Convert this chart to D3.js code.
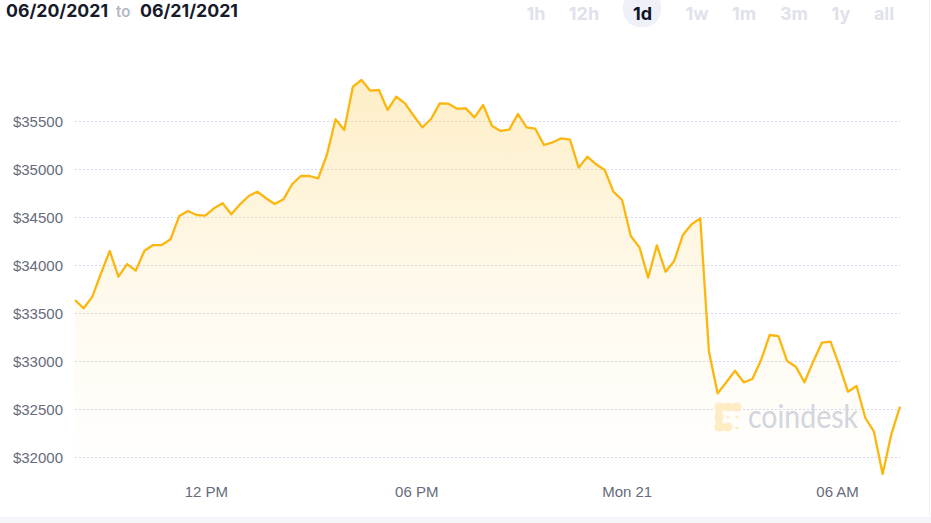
<!DOCTYPE html>
<html>
<head>
<meta charset="utf-8">
<script src="https://cdn.jsdelivr.net/npm/d3@7/dist/d3.min.js"></script>
<style>
  html, body { margin: 0; padding: 0; background: #ffffff; }
  svg { display: block; }
</style>
</head>
<body>
<svg id="chart" width="931" height="523"></svg>
<script>
// ---------- Data ----------
const prices = [
  33635, 33549, 33670, 33914, 34146, 33878, 34010, 33941, 34149, 34208,
  34208, 34268, 34510, 34562, 34521, 34514, 34590, 34643, 34528, 34632,
  34719, 34764, 34695, 34635, 34684, 34841, 34927, 34927, 34903, 35146,
  35518, 35406, 35857, 35927, 35816, 35823, 35615, 35753, 35684, 35555,
  35434, 35521, 35684, 35680, 35628, 35632, 35538, 35667, 35451, 35396,
  35410, 35573, 35434, 35420, 35250, 35278, 35320, 35305, 35014, 35128,
  35049, 34990, 34764, 34677, 34302, 34184, 33868, 34205, 33930, 34042,
  34313, 34424, 34486, 33097, 32663, 32778, 32899, 32778, 32813, 33010,
  33271, 33260, 33000, 32941, 32778, 32993, 33191, 33201, 32958, 32680,
  32740, 32409, 32264, 31823, 32236, 32524
];
const startTime = new Date(2021, 5, 20, 8, 16);
const stepMinutes = 14.86;
const yTickValues = [32000, 32500, 33000, 33500, 34000, 34500, 35000, 35500];
const xTickTimes = [
  new Date(2021, 5, 20, 12, 0),
  new Date(2021, 5, 20, 18, 0),
  new Date(2021, 5, 21, 0, 0),
  new Date(2021, 5, 21, 6, 0)
];
const xTickLabels = ["12 PM", "06 PM", "Mon 21", "06 AM"];
const dateFrom = "06/20/2021";
const dateTo = "06/21/2021";
const rangeButtons = ["1h", "12h", "1d", "1w", "1m", "3m", "1y", "all"];
const activeRange = "1d";

// ---------- Build ----------
const data = prices.map((p, i) => ({
  t: new Date(startTime.getTime() + i * stepMinutes * 60000),
  v: p
}));

const svg = d3.select("#chart");
const W = 931, H = 523;

const x = d3.scaleTime()
  .domain([data[0].t, data[data.length - 1].t])
  .range([75, 900]);
const y = d3.scaleLinear()
  .domain([32000, 35500])
  .range([457, 121]);

// bottom band & right border
svg.append("rect").attr("x", 0).attr("y", 517).attr("width", W).attr("height", 6).attr("fill", "#f3f5f9");
svg.append("line").attr("x1", 929.5).attr("x2", 929.5).attr("y1", 0).attr("y2", 517)
  .attr("stroke", "#f0f1f7").attr("stroke-width", 1);

// gradient
const defs = svg.append("defs");
const grad = defs.append("linearGradient").attr("id", "areaGrad")
  .attr("gradientUnits", "userSpaceOnUse")
  .attr("x1", 0).attr("y1", 80).attr("x2", 0).attr("y2", 470);
grad.append("stop").attr("offset", "0%").attr("stop-color", "#fbd572").attr("stop-opacity", 0.4);
grad.append("stop").attr("offset", "55%").attr("stop-color", "#fbd572").attr("stop-opacity", 0.13);
grad.append("stop").attr("offset", "100%").attr("stop-color", "#fbd572").attr("stop-opacity", 0);

// y axis labels
const yAxis = d3.axisLeft(y).tickValues(yTickValues).tickSize(0).tickPadding(0)
  .tickFormat(d => "$" + d);
const gy = svg.append("g").attr("transform", "translate(63,0)").call(yAxis);
gy.select(".domain").remove();
gy.selectAll("text")
  .attr("x", 0)
  .attr("dy", "0.35em")
  .attr("fill", "#666b7b")
  .style("font-family", "'Liberation Sans', Arial, sans-serif")
  .style("font-size", "15px");

// grid lines
svg.append("g").selectAll("line").data(yTickValues).join("line")
  .attr("x1", 75).attr("x2", 900)
  .attr("y1", d => Math.round(y(d)) + 0.5).attr("y2", d => Math.round(y(d)) + 0.5)
  .attr("stroke", "#d3d6ec").attr("stroke-width", 1).attr("stroke-dasharray", "2,2");

// area
const area = d3.area().x(d => x(d.t)).y0(470).y1(d => y(d.v));
svg.append("path").datum(data).attr("d", area).attr("fill", "url(#areaGrad)");

// watermark
const wm = svg.append("g").attr("fill", "#fdecc4");
const big = [[719,407],[728,407],[737,407],[719,417],[719,427],[728,427]];
wm.append("path").attr("d", "M719,407 L737,407 M719,407 L719,427 L728,427")
  .attr("stroke", "#fdecc4").attr("stroke-width", 7).attr("stroke-linecap", "round").attr("fill", "none");
big.forEach(p => wm.append("circle").attr("cx", p[0]).attr("cy", p[1]).attr("r", 4.5));
[[728,417],[737,417],[737,428]].forEach(p => wm.append("circle").attr("cx", p[0]).attr("cy", p[1]).attr("r", 1.6));
svg.append("text").attr("x", 748).attr("y", 428)
  .attr("fill", "#d2d5df")
  .style("font-family", "Lato, 'Open Sans', sans-serif")
  .style("font-size", "33px")
  .attr("textLength", 110)
  .attr("lengthAdjust", "spacingAndGlyphs")
  .text("coindesk");

// line
const line = d3.line().x(d => x(d.t)).y(d => y(d.v));
svg.append("path").datum(data).attr("d", line)
  .attr("fill", "none").attr("stroke", "#fbb710").attr("stroke-width", 2.3)
  .attr("stroke-linejoin", "round");

// x axis
const xAxis = d3.axisBottom(x).tickValues(xTickTimes).tickSize(0).tickPadding(0)
  .tickFormat((d, i) => xTickLabels[i]);
const gx = svg.append("g").attr("transform", "translate(0,497)").call(xAxis);
gx.select(".domain").remove();
gx.selectAll("text")
  .attr("y", 0).attr("dy", 0)
  .attr("fill", "#666b7b")
  .style("font-family", "'Liberation Sans', Arial, sans-serif")
  .style("font-size", "15px");

// header: pill behind active button first
const btnX = { "1h": 536, "12h": 584, "1d": 642.5, "1w": 697, "1m": 744, "3m": 794, "1y": 841, "all": 884 };
svg.append("rect").attr("x", 623).attr("y", -10).attr("width", 38).attr("height", 37).attr("rx", 17)
  .attr("fill", "#eef1f8");

const hdr = svg.append("g").style("font-family", "Inter, 'Noto Sans', sans-serif").style("font-weight", 700);
hdr.append("text").attr("x", 6).attr("y", 17).attr("fill", "#171a2b").style("font-size", "17.5px")
  .attr("textLength", 102).attr("lengthAdjust", "spacingAndGlyphs").text(dateFrom);
hdr.append("text").attr("x", 116).attr("y", 17).attr("fill", "#b4b7c5").style("font-size", "15px").style("font-weight", 600).text("to");
hdr.append("text").attr("x", 140).attr("y", 17).attr("fill", "#171a2b").style("font-size", "17.5px")
  .attr("textLength", 98).attr("lengthAdjust", "spacingAndGlyphs").text(dateTo);

hdr.selectAll("text.btn").data(rangeButtons).join("text")
  .attr("class", "btn")
  .attr("x", d => btnX[d])
  .attr("y", 20)
  .attr("text-anchor", "middle")
  .attr("fill", d => d === activeRange ? "#111426" : "#dfe2eb")
  .style("font-size", "18px")
  .text(d => d);
</script>
</body>
</html>
